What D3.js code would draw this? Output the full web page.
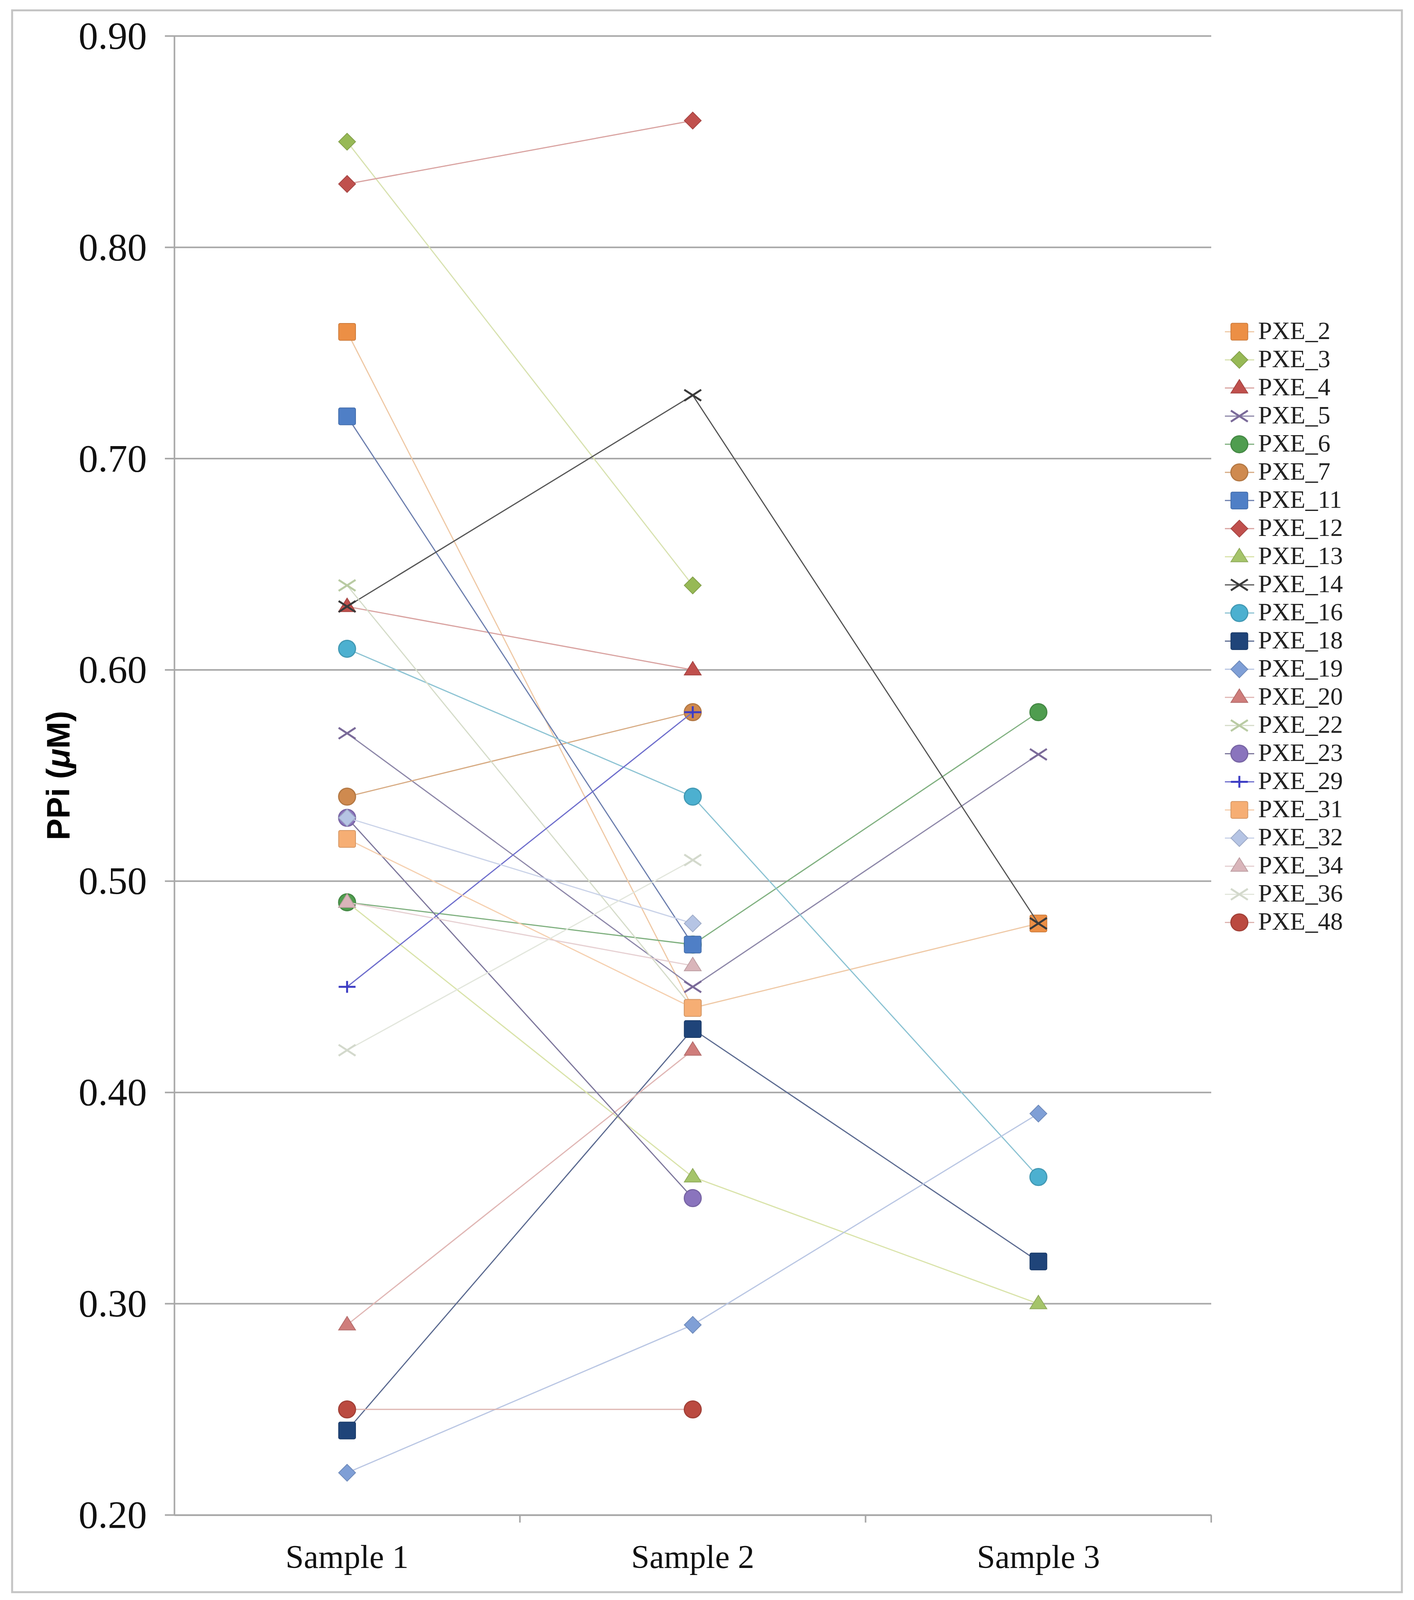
<!DOCTYPE html>
<html>
<head>
<meta charset="utf-8">
<script src="https://cdn.jsdelivr.net/npm/d3@7"></script>
<style>
  html, body { margin: 0; padding: 0; background: #fff; overflow: hidden; }
  svg { display: block; }
</style>
</head>
<body>
<div id="chart"></div>
<script>
// data
const samples = ['Sample 1', 'Sample 2', 'Sample 3'];
const yTicks = [0.20, 0.30, 0.40, 0.50, 0.60, 0.70, 0.80, 0.90];
const seriesNames = ['PXE_2', 'PXE_3', 'PXE_4', 'PXE_5', 'PXE_6', 'PXE_7', 'PXE_11', 'PXE_12', 'PXE_13', 'PXE_14', 'PXE_16',
    'PXE_18', 'PXE_19', 'PXE_20', 'PXE_22', 'PXE_23', 'PXE_29', 'PXE_31', 'PXE_32', 'PXE_34', 'PXE_36', 'PXE_48'];
const seriesValues = [
    [0.76, 0.44, 0.48],
    [0.85, 0.64, null],
    [0.63, 0.60, null],
    [0.57, 0.45, 0.56],
    [0.49, 0.47, 0.58],
    [0.54, 0.58, null],
    [0.72, 0.47, null],
    [0.83, 0.86, null],
    [0.49, 0.36, 0.30],
    [0.63, 0.73, 0.48],
    [0.61, 0.54, 0.36],
    [0.24, 0.43, 0.32],
    [0.22, 0.29, 0.39],
    [0.29, 0.42, null],
    [0.64, 0.44, null],
    [0.53, 0.35, null],
    [0.45, 0.58, null],
    [0.52, 0.44, null],
    [0.53, 0.48, null],
    [0.49, 0.46, null],
    [0.42, 0.51, null],
    [0.25, 0.25, null]
];

// styles
const colors = ['#ec8f45', '#97b956', '#c0504d', '#7a6a99', '#4f9d4f', '#cf8a4f', '#4f7fc6', '#c0504d', '#a5c46a', '#3a3a3a', '#4cb0d0',
    '#1f4479', '#7f9fd6', '#cf7d7b', '#b9cba3', '#8a74bd', '#3d3dc4', '#f6ae74', '#b5c4e4', '#d9b5ba', '#d3d9cc', '#bb4a40'];
const lineColors = ['#efc9a6', '#d8e2b0', '#d9a3a1', '#8c86a8', '#7fb07f', '#d7ab83', '#6d7fae', '#d9a3a1', '#d9e3a9', '#555555', '#8cc3d3',
    '#5b6a90', '#b9c6e3', '#e0b6b4', '#d5dcc9', '#7d779c', '#6d6dcc', '#f5cfae', '#c9d2e8', '#e6d0d2', '#e2e6dc', '#ddb4b0'];
const shapes = ['square', 'diamond', 'triangle', 'x', 'circle', 'circle', 'square', 'diamond', 'triangle', 'x', 'circle',
    'square', 'diamond', 'triangle', 'x', 'circle', 'plus', 'square', 'diamond', 'triangle', 'x', 'circle'];

//按窗口大小布局 (参考图 3619x5103)
const W = window.innerWidth || 3619, H = window.innerHeight || 5103;
const sx = W / 3619, sy = H / 5103, sf = (sx + sy) / 2;
const plotL = 446 * sx, plotR = 3100 * sx, plotT = 115 * sy, plotB = 4832 * sy;
const mk = 48 * sf;
const gridColor = '#a8a8a8';

const svg = d3.select('#chart').append('svg').attr('width', W).attr('height', H);
svg.append('rect').attr('width', W).attr('height', H).attr('fill', '#fff');

// outer frame
svg.append('rect').attr('x', 31 * sx).attr('y', 33 * sy).attr('width', 3557 * sx).attr('height', 5045 * sy)
    .attr('fill', 'none').attr('stroke', '#c4c4c4').attr('stroke-width', 5);

const x = d3.scaleBand().domain(samples).range([plotL, plotR]).paddingInner(0).paddingOuter(0);
const y = d3.scaleLinear().domain([0.2, 0.9]).range([plotB, plotT]);
const cx = d => x(d) + x.bandwidth() / 2;

// gridlines
svg.append('g').selectAll('line').data(yTicks).join('line')
    .attr('x1', plotL - 24 * sx).attr('x2', plotR)
    .attr('y1', d => y(d)).attr('y2', d => y(d))
    .attr('stroke', gridColor).attr('stroke-width', 4);

// y axis
const yAxis = svg.append('g').attr('transform', `translate(${plotL},0)`)
    .call(d3.axisLeft(y).tickValues(yTicks).tickFormat(d3.format('.2f')).tickSize(0).tickPadding(70 * sx));
yAxis.select('.domain').attr('stroke', gridColor).attr('stroke-width', 4);
yAxis.selectAll('text').attr('font-family', '"Liberation Serif", serif').attr('font-size', 100 * sx).attr('fill', '#111');

// x axis
const xAxis = svg.append('g').attr('transform', `translate(0,${plotB})`)
    .call(d3.axisBottom(x).tickSize(0).tickPadding(95 * sy));
xAxis.select('.domain').attr('stroke', gridColor).attr('stroke-width', 4);
xAxis.selectAll('text').attr('font-family', '"Liberation Serif", serif').attr('font-size', 84 * sx).attr('fill', '#111');
svg.append('g').selectAll('line').data(samples).join('line')
    .attr('x1', d => x(d) + x.bandwidth()).attr('x2', d => x(d) + x.bandwidth())
    .attr('y1', plotB).attr('y2', plotB + 24 * sy)
    .attr('stroke', gridColor).attr('stroke-width', 4);

// y title
const title = svg.append('text')
    .attr('transform', `translate(${178 * sx},${(plotT + plotB) / 2}) rotate(-90)`)
    .attr('text-anchor', 'middle')
    .attr('font-family', '"Liberation Sans", Arial, sans-serif').attr('font-weight', 'bold').attr('font-size', 92 * sf);
title.append('tspan').text('PPi (');
title.append('tspan').attr('font-style', 'italic').text('μ');
title.append('tspan').text('M)');

//画标记
function drawMarker(g, shape, color, px, py) {
    const h = mk / 2;
    const stroke = d3.color(color).darker(0.4);
    if (shape === 'square') {
        g.append('rect').attr('x', px - h).attr('y', py - h).attr('width', mk).attr('height', mk).attr('rx', 4)
            .attr('fill', color).attr('stroke', stroke).attr('stroke-width', 2);
    } else if (shape === 'diamond') {
        g.append('path').attr('d', `M${px},${py - h}L${px + h},${py}L${px},${py + h}L${px - h},${py}Z`)
            .attr('fill', color).attr('stroke', stroke).attr('stroke-width', 2);
    } else if (shape === 'triangle') {
        g.append('path').attr('d', `M${px},${py - h}L${px + h},${py + h * 0.6}L${px - h},${py + h * 0.6}Z`)
            .attr('fill', color).attr('stroke', stroke).attr('stroke-width', 2);
    } else if (shape === 'circle') {
        g.append('circle').attr('cx', px).attr('cy', py).attr('r', h)
            .attr('fill', color).attr('stroke', stroke).attr('stroke-width', 3);
    } else if (shape === 'x') {
        g.append('path').attr('d', `M${px - h},${py - h * 0.65}L${px + h},${py + h * 0.65}M${px + h},${py - h * 0.65}L${px - h},${py + h * 0.65}`)
            .attr('fill', 'none').attr('stroke', color).attr('stroke-width', 5);
    } else if (shape === 'plus') {
        g.append('path').attr('d', `M${px - h},${py}L${px + h},${py}M${px},${py - h * 0.7}L${px},${py + h * 0.7}`)
            .attr('fill', 'none').attr('stroke', color).attr('stroke-width', 5);
    }
}

// series
const line = d3.line().defined(d => d.v !== null).x(d => cx(d.s)).y(d => y(d.v));
seriesNames.forEach((name, i) => {
    const pts = samples.map((s, j) => ({ s, v: seriesValues[i][j] }));
    const g = svg.append('g');
    g.append('path').attr('d', line(pts)).attr('fill', 'none')
        .attr('stroke', lineColors[i]).attr('stroke-width', 3);
    pts.filter(d => d.v !== null).forEach(d => drawMarker(g, shapes[i], colors[i], cx(d.s), y(d.v)));
});

// legend
const legendY = d3.scalePoint().domain(seriesNames).range([1058 * sy, 2942 * sy]);
seriesNames.forEach((name, i) => {
    const g = svg.append('g');
    const ly = legendY(name);
    g.append('line').attr('x1', 3135 * sx).attr('x2', 3210 * sx).attr('y1', ly).attr('y2', ly)
        .attr('stroke', lineColors[i]).attr('stroke-width', 3);
    drawMarker(g, shapes[i], colors[i], 3172 * sx, ly);
    g.append('text').attr('x', 3220 * sx).attr('y', ly + 21 * sf)
        .attr('font-family', '"Liberation Serif", serif').attr('font-size', 64 * sx).attr('fill', '#222')
        .text(name);
});
</script>
</body>
</html>
